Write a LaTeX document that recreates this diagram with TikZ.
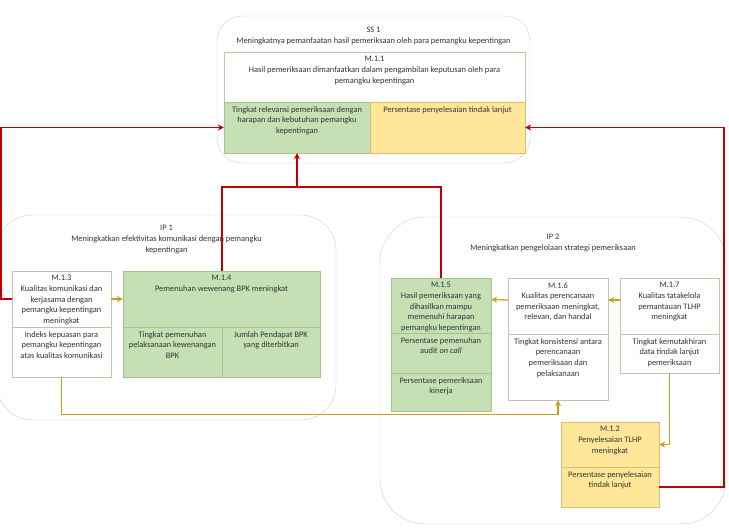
\documentclass[tikz,border=0pt]{standalone}
\usepackage{fontspec}
\setmainfont{Carlito}
\usetikzlibrary{arrows.meta,calc}
\definecolor{kpigreen}{HTML}{C5E0B4}
\definecolor{greenline}{HTML}{A3C48A}
\definecolor{kpiyellow}{HTML}{FFE699}
\definecolor{yellowline}{HTML}{D6BF6E}
\definecolor{cellline}{HTML}{C4C4AE}
\definecolor{grpline}{HTML}{CFCFBC}
\definecolor{linered}{HTML}{C00000}
\definecolor{linegold}{HTML}{C8A020}
\definecolor{txtgray}{HTML}{333333}
\tikzset{
  grp/.style={draw=grpline,thin},                            % objective frame
  cell/.style={draw=cellline,fill=white,inner sep=0pt},      % measure box
  gcell/.style={cell,fill=kpigreen,draw=greenline},
  ycell/.style={cell,fill=kpiyellow,draw=yellowline},
  txt/.style={anchor=north,align=center,inner sep=0pt,yshift=-4.5pt,
    font=\fontsize{8.4}{10.6}\selectfont,text=txtgray},
  redln/.style={draw=linered,line width=1.5pt},
  goldln/.style={draw=linegold,line width=1.3pt},
  tip/.style={-{Stealth[length=6pt,width=6pt]}},
}

\begin{document}
\begin{tikzpicture}[x=1pt,y=-1pt]
  \useasboundingbox (0,0) rectangle (729,530);
  % frames
  \node[grp,rounded corners=25pt,minimum width=313pt,minimum height=147pt] (ss1) at (373.5,89.5) {};
  \node[txt,yshift=-7pt] (ss1t) at (ss1.north) {SS 1\\Meningkatnya pemanfaatan hasil pemeriksaan oleh para pemangku kepentingan};
  \node[grp,rounded corners=35pt,minimum width=339pt,minimum height=205pt] (ip1) at (166.5,317.5) {};
  \node[txt,yshift=-6pt] (ip1t) at (ip1.north) {IP 1\\Meningkatkan efektivitas komunikasi dengan pemangku\\kepentingan};
  \node[grp,rounded corners=45pt,minimum width=346pt,minimum height=307pt] (ip2) at (553,370.5) {};
  \node[txt,yshift=-13pt] (ip2t) at (ip2.north) {IP 2\\Meningkatkan pengelolaan strategi pemeriksaan};

  % SS 1
  \node[cell,minimum width=301pt,minimum height=50pt] (m11) at (374.5,77) {};
  \node[txt] (m11t) at (m11.north) {M.1.1\\Hasil pemeriksaan dimanfaatkan dalam pengambilan keputusan oleh para\\pemangku kepentingan};
  \node[gcell,minimum width=146pt,minimum height=51pt] (m11a) at (297,127.5) {};
  \node[txt] (m11at) at (m11a.north) {Tingkat relevansi pemeriksaan dengan\\harapan dan kebutuhan pemangku\\kepentingan};
  \node[ycell,minimum width=155pt,minimum height=51pt] (m11b) at (447.5,127.5) {};
  \node[txt] (m11bt) at (m11b.north) {Persentase penyelesaian tindak lanjut};

  % IP 1
  \node[cell,minimum width=99pt,minimum height=56pt] (m13) at (61.5,299) {};
  \node[txt] (m13t) at (m13.north) {M.1.3\\Kualitas komunikasi dan\\kerjasama dengan\\pemangku kepentingan\\meningkat};
  \node[cell,minimum width=99pt,minimum height=50pt] (m13a) at (61.5,352) {};
  \node[txt] (m13at) at (m13a.north) {Indeks kepuasan para\\pemangku kepentingan\\atas kualitas komunikasi};
  \node[gcell,minimum width=197pt,minimum height=56pt] (m14) at (221.5,299) {};
  \node[txt] (m14t) at (m14.north) {M.1.4\\Pemenuhan wewenang BPK meningkat};
  \node[gcell,minimum width=99pt,minimum height=50pt] (m14a) at (172.5,352) {};
  \node[txt] (m14at) at (m14a.north) {Tingkat pemenuhan\\pelaksanaan kewenangan\\BPK};
  \node[gcell,minimum width=98pt,minimum height=50pt] (m14b) at (271,352) {};
  \node[txt] (m14bt) at (m14b.north) {Jumlah Pendapat BPK\\yang diterbitkan};

  % IP 2
  \node[gcell,minimum width=100pt,minimum height=55pt] (m15) at (441,305.5) {};
  \node[txt] (m15t) at (m15.north) {M.1.5\\Hasil pemeriksaan yang\\dihasilkan mampu\\memenuhi harapan\\pemangku kepentingan};
  \node[gcell,minimum width=100pt,minimum height=40pt] (m15a) at (441,353) {};
  \node[txt] (m15at) at (m15a.north) {Persentase pemenuhan\\audit \textit{on call}};
  \node[gcell,minimum width=100pt,minimum height=38pt] (m15b) at (441,392) {};
  \node[txt] (m15bt) at (m15b.north) {Persentase pemeriksaan\\kinerja};
  \node[cell,minimum width=100pt,minimum height=56pt] (m16) at (558,306) {};
  \node[txt] (m16t) at (m16.north) {M.1.6\\Kualitas perencanaan\\pemeriksaan meningkat,\\relevan, dan handal};
  \node[cell,minimum width=100pt,minimum height=66pt] (m16a) at (558,367) {};
  \node[txt] (m16at) at (m16a.north) {Tingkat konsistensi antara\\perencanaan\\pemeriksaan dan\\pelaksanaan};
  \node[cell,minimum width=99pt,minimum height=56pt] (m17) at (669.5,306) {};
  \node[txt] (m17t) at (m17.north) {M.1.7\\Kualitas tatakelola\\pemantauan TLHP\\meningkat};
  \node[cell,minimum width=99pt,minimum height=39pt] (m17a) at (669.5,353.5) {};
  \node[txt] (m17at) at (m17a.north) {Tingkat kemutakhiran\\data tindak lanjut\\pemeriksaan};
  \node[ycell,minimum width=98pt,minimum height=45pt] (m12) at (610,444.5) {};
  \node[txt] (m12t) at (m12.north) {M.1.2\\Penyelesaian TLHP\\meningkat};
  \node[ycell,minimum width=98pt,minimum height=40pt] (m12a) at (610,487) {};
  \node[txt] (m12at) at (m12a.north) {Persentase penyelesaian\\tindak lanjut};

  % links to SS 1
  \coordinate (jn) at (297,187);
  \draw[redln,tip] (m13.west) -- (1,299) |- (m11a.west);
  \draw[redln] (m14.north -| m14b.west) |- (jn) -| (m15.north);
  \draw[redln,tip] (jn) -- (m11a.south);
  \draw[redln,tip] (m12a.east) -- (724,487) |- (m11b.east);

  % links inside the programmes
  \draw[goldln,tip] (m13.east) -- (m14.west);
  \draw[goldln,tip] ([yshift=6pt]m16.west) -- ([yshift=6pt]m15.east);
  \draw[goldln,tip] ([yshift=6pt]m17.west) -- ([yshift=6pt]m16.east);
  \draw[goldln,tip] (m13a.south) -- ++(0,37) -| (m16a.south);
  \draw[goldln,tip] (m17a.south) |- (m12.east);
\end{tikzpicture}
\end{document}
